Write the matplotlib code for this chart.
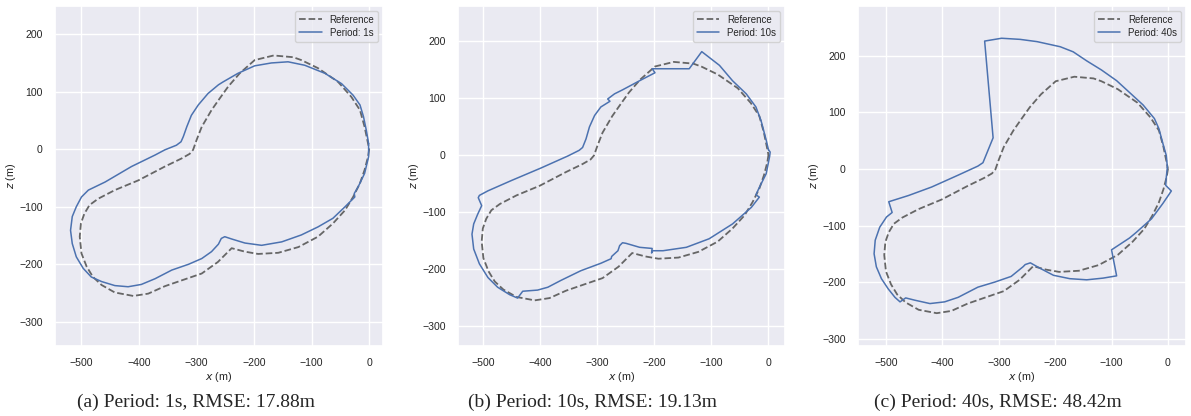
import matplotlib
matplotlib.use("Agg")
import matplotlib.pyplot as plt
import seaborn as sns

# reference trajectory (same in every panel), x and z in metres
ref_x = [0, -2, -8, -16, -28, -42, -63, -89, -123, -158, -193, -216, -239, -248, -263,
         -291, -326, -355, -384, -410, -442, -465, -480, -491, -500, -503, -501, -495,
         -486, -471, -442, -401, -355, -326, -312, -306, -300, -291, -274, -260, -245,
         -225, -199, -166, -132, -118, -89, -54, -31, -16, -8, -2, 0]
ref_z = [0, -13, -36, -59, -83, -106, -129, -152, -170, -180, -182, -178, -172, -181, -196,
         -216, -228, -238, -251, -255, -249, -236, -222, -204, -181, -152, -129, -112,
         -97, -86, -71, -54, -30, -16, -8, -1, 16, 39, 68, 88, 109,
         132, 155, 163, 160, 155, 141, 117, 91, 68, 39, 10, 0]

# estimated trajectory, period 1s
p1_x = [-1, -1, -8, -19, -26, -25, -42, -63, -89, -118, -152, -187, -216, -239, -251,
        -257, -262, -274, -291, -314, -343, -372, -396, -419, -442, -465, -483, -497,
        -509, -516, -519, -516, -509, -500, -488, -459, -413, -372, -355, -335, -327,
        -323, -317, -309, -297, -280, -262, -254, -228, -199, -170, -141, -112, -77,
        -48, -28, -16, -10, -5, -1]
p1_z = [10, -13, -42, -65, -77, -83, -100, -120, -135, -149, -161, -167, -163, -156, -152,
        -155, -165, -178, -190, -200, -210, -225, -235, -239, -237, -230, -222, -207,
        -187, -164, -141, -117, -100, -83, -71, -57, -30, -10, -1, 7, 13,
        22, 39, 59, 77, 97, 112, 117, 132, 145, 150, 152, 146, 132,
        114, 94, 77, 57, 33, 10]

# estimated trajectory, period 10s
p10_x = [0, 3, 2, -4, -16, -22, -16, -30, -63, -104, -144, -185, -203, -205, -204,
         -226, -250, -256, -261, -264, -275, -276, -294, -329, -364, -387, -405, -431,
         -440, -454, -475, -492, -507, -517, -520, -517, -510, -503, -509, -507, -492,
         -451, -399, -352, -332, -326, -320, -314, -305, -294, -278, -282, -270, -256,
         -226, -199, -204, -139, -117, -86, -63, -39, -22, -13, -4, 0]
p10_z = [9, 5, -3, -33, -57, -70, -74, -92, -121, -147, -162, -168, -168, -172, -164,
         -162, -155, -154, -159, -168, -178, -182, -190, -203, -220, -232, -237, -239,
         -251, -245, -232, -215, -191, -165, -139, -121, -104, -89, -75, -71, -63,
         -45, -23, -2, 8, 13, 28, 49, 69, 84, 94, 98, 107, 114,
         130, 144, 151, 151, 181, 157, 130, 107, 84, 60, 26, 9]

# estimated trajectory, period 40s
p40_x = [-1, -3, -4, 6, -9, -29, -56, -68, -100, -91, -115, -144, -174, -203, -226,
         -244, -253, -257, -278, -307, -337, -372, -396, -422, -449, -465, -475, -484,
         -496, -508, -517, -521, -519, -511, -499, -489, -495, -460, -419, -372, -337,
         -328, -310, -325, -295, -262, -232, -191, -168, -144, -118, -91, -68, -44,
         -24, -16, -9, -3, -1]
p40_z = [3, -15, -29, -39, -61, -88, -112, -122, -143, -189, -193, -196, -194, -188, -176,
         -166, -169, -173, -190, -200, -209, -227, -235, -238, -232, -228, -235, -227,
         -212, -194, -173, -150, -126, -103, -85, -77, -58, -47, -32, -11, 5,
         11, 55, 226, 231, 229, 225, 216, 207, 191, 175, 156, 135, 113,
         89, 71, 45, 24, 3]

periods = ["1s", "10s", "40s"]
rmse = [17.88, 19.13, 48.42]
tags = ["a", "b", "c"]
est = [(p1_x, p1_z), (p10_x, p10_z), (p40_x, p40_z)]

sns.set_theme(style="darkgrid")
plt.rcParams['font.family'] = ['Liberation Sans', 'DejaVu Sans']

fig = plt.figure(figsize=(11.91, 4.16), dpi=100)

lefts = [55, 458.3, 858.3]
widths = [328, 326.7, 327.7]
xlims = [(-546, 24), (-544, 29), (-549, 32)]
ylims = [(-342, 249), (-335, 261), (-313, 288)]
cap_x = [196, 593, 998]

for i in range(3):
    ax = fig.add_axes([lefts[i] / 1191, 70 / 416, widths[i] / 1191, 340 / 416])
    ax.plot(ref_x, ref_z, "--", color="#666666", lw=1.3, label="Reference")
    ax.plot(est[i][0], est[i][1], "-", color="#4c72b0", lw=1.1,
            label="Period: " + periods[i])
    ax.set_xlim(*xlims[i])
    ax.set_ylim(*ylims[i])
    ax.set_xticks([-500, -400, -300, -200, -100, 0])
    ax.set_yticks([-300, -200, -100, 0, 100, 200])
    ax.tick_params(labelsize=7.6, pad=3)
    ax.set_xlabel("$x$ (m)", fontsize=7.8, labelpad=1)
    ax.set_ylabel("$z$ (m)", fontsize=7.8, labelpad=1)
    ax.legend(loc="upper right", fontsize=7, handlelength=2.3, borderpad=0.4,
              labelspacing=0.3)
    fig.text(cap_x[i] / 1191, 14 / 416,
             "(%s) Period: %s, RMSE: %.2fm" % (tags[i], periods[i], rmse[i]),
             ha="center", va="center", fontsize=14, family="Liberation Serif")

fig.savefig("out.png", dpi=100)
